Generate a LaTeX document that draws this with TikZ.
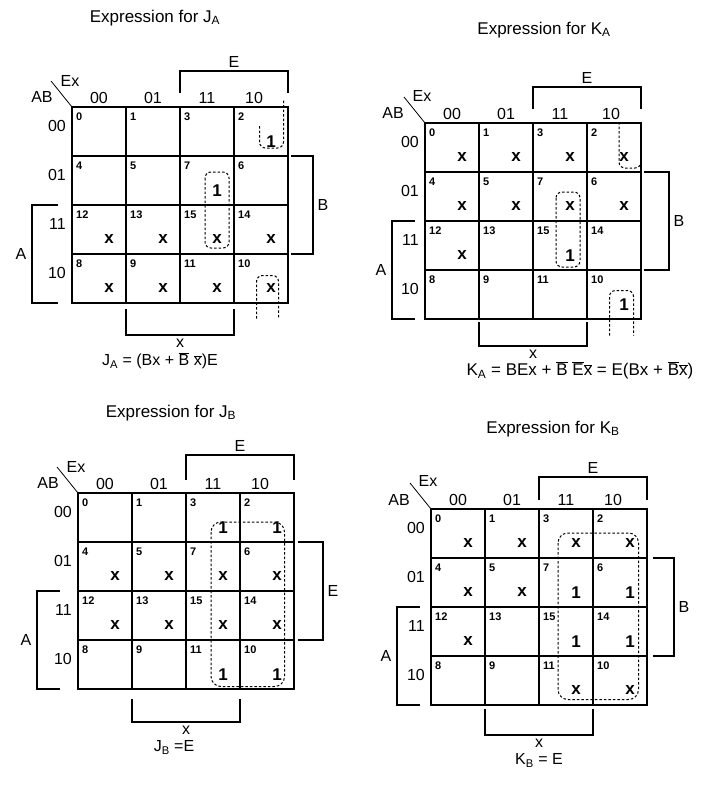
\documentclass[tikz,border=0pt]{standalone}
\usepackage{fontspec}
\setmainfont{Liberation Sans}
\usepackage{tikz}
\usetikzlibrary{positioning}

\begin{document}
\begin{tikzpicture}[
		x=1pt, y=-1pt,
		cell/.style={
			draw,
			line width=1.5pt,
			anchor=north west,
			minimum width=54pt,
			minimum height=49pt,
			inner sep=0pt,
			outer sep=0pt
		},
		num/.style={anchor=north west, inner sep=1pt, font=\bfseries\fontsize{11}{13}\selectfont},
		val/.style={inner sep=0pt, font=\bfseries\fontsize{17}{19}\selectfont},
		lbl/.style={inner sep=1pt, font=\fontsize{16}{18}\selectfont},
		title/.style={inner sep=1pt, font=\fontsize{17}{19}\selectfont},
		brk/.style={line width=1.2pt},
		grp/.style={line width=1pt, dash pattern=on 2.5pt off 2pt, rounded corners=6pt}
		]
		\useasboundingbox (0,0) rectangle (705,790);
		
		% Titles
		\node[title] (ja-title) at (155,18) {Expression for J\textsubscript{A}};
		\node[title] (ka-title) at (544,30) {Expression for K\textsubscript{A}};
		\node[title] (jb-title) at (171,413) {Expression for J\textsubscript{B}};
		\node[title] (kb-title) at (553,429) {Expression for K\textsubscript{B}};
		
		% Map for J_A
		\begin{scope}[shift={(72,107)}]
			\foreach \num/\val [count=\i from 0] in {0/{},1/{},3/{},2/1,4/{},5/{},7/1,6/{},12/x,13/x,15/x,14/x,8/x,9/x,11/x,10/x} {
				\node[cell] (ja\num) at ({mod(\i,4)*54},{int(\i/4)*49}) {};
				\node[num] (ja\num n) at ([shift={(3,5)}]ja\num.north west) {\num};
				\node[val] (ja\num v) at ([xshift=10pt,yshift=-10pt]ja\num.center) {\val};
			}
		\end{scope}
		\foreach \lab/\num/\dx in {00/0/0,01/1/0,11/3/0,10/2/-7}
			\node[lbl, above=2pt of ja\num, xshift=\dx pt] (ja-c\lab) {\lab};
		\foreach \lab/\num in {00/0,01/4,11/12,10/8}
			\node[lbl, left=5pt of ja\num, yshift=6pt] (ja-r\lab) {\lab};
		\draw[thick] (ja0.north west) -- ++(-21,-26);
		\node[lbl] (ja-ab) at ([shift={(-30,-10)}]ja0.north west) {AB};
		\node[lbl] (ja-ex) at ([shift={(-2,-26)}]ja0.north west) {Ex};
		\draw[brk] ([yshift=14pt]ja3.north west) -- ([yshift=36pt]ja3.north west)
			-- node[lbl, above=2pt] (ja-e) {E} ([yshift=36pt]ja2.north east) -- ([yshift=14pt]ja2.north east);
		\draw[brk] ([xshift=3pt]ja6.north east) -- ([xshift=25pt]ja6.north east)
			-- node[lbl, right=3pt] (ja-b) {B} ([xshift=25pt]ja14.south east) -- ([xshift=3pt]ja14.south east);
		\draw[brk] ([xshift=-14pt]ja12.north west) -- ([xshift=-40pt]ja12.north west)
			-- node[lbl, left=4pt] (ja-a) {A} ([xshift=-40pt]ja8.south west) -- ([xshift=-14pt]ja8.south west);
		\draw[brk] ([yshift=-6pt]ja9.south west) -- ([yshift=-32pt]ja9.south west)
			-- node[lbl, below=2pt] (ja-x) {x} ([yshift=-32pt]ja11.south east) -- ([yshift=-6pt]ja11.south east);
		\node[lbl, below=3pt of ja-x, xshift=-20pt] (ja-expr)
			{J\textsubscript{A} = (Bx + $\overline{\mbox{B}}$ $\overline{\mbox{x}}$)E};
		% groups
		\draw[grp] ([shift={(25,16)}]ja7.north west) rectangle ([shift={(49,43)}]ja15.north west);
		\draw[grp] ([shift={(25.5,19)}]ja2.north west) -- ([shift={(25.5,41)}]ja2.north west)
			-- ([shift={(49.5,41)}]ja2.north west) -- ([shift={(49.5,-7)}]ja2.north west);
		\draw[grp] ([shift={(22.5,64.5)}]ja10.north west) -- ([shift={(22.5,21.5)}]ja10.north west)
			-- ([shift={(44.5,21.5)}]ja10.north west) -- ([shift={(44.5,64.5)}]ja10.north west);
		
		% Map for K_A
		\begin{scope}[shift={(425,123)}]
			\foreach \num/\val [count=\i from 0] in {0/x,1/x,3/x,2/x,4/x,5/x,7/x,6/x,12/x,13/{},15/1,14/{},8/{},9/{},11/{},10/1} {
				\node[cell] (ka\num) at ({mod(\i,4)*54},{int(\i/4)*49}) {};
				\node[num] (ka\num n) at ([shift={(3,5)}]ka\num.north west) {\num};
				\node[val] (ka\num v) at ([xshift=10pt,yshift=-10pt]ka\num.center) {\val};
			}
		\end{scope}
		\foreach \lab/\num/\dx in {00/0/0,01/1/0,11/3/0,10/2/-3}
			\node[lbl, above=2pt of ka\num, xshift=\dx pt] (ka-c\lab) {\lab};
		\foreach \lab/\num in {00/0,01/4,11/12,10/8}
			\node[lbl, left=5pt of ka\num, yshift=6pt] (ka-r\lab) {\lab};
		\draw[thick] (ka0.north west) -- ++(-21,-26);
		\node[lbl] (ka-ab) at ([shift={(-32,-10)}]ka0.north west) {AB};
		\node[lbl] (ka-ex) at ([shift={(-3,-27)}]ka0.north west) {Ex};
		\draw[brk] ([yshift=14pt]ka3.north west) -- ([yshift=36pt]ka3.north west)
			-- node[lbl, above=2pt] (ka-e) {E} ([yshift=36pt]ka2.north east) -- ([yshift=14pt]ka2.north east);
		\draw[brk] ([xshift=3pt]ka6.north east) -- ([xshift=28pt]ka6.north east)
			-- node[lbl, right=3pt] (ka-b) {B} ([xshift=28pt]ka14.south east) -- ([xshift=3pt]ka14.south east);
		\draw[brk] ([xshift=-10pt]ka12.north west) -- ([xshift=-33pt]ka12.north west)
			-- node[lbl, left=4pt] (ka-a) {A} ([xshift=-33pt]ka8.south west) -- ([xshift=-10pt]ka8.south west);
		\draw[brk] ([yshift=-3pt]ka9.south west) -- ([yshift=-27pt]ka9.south west)
			-- node[lbl, below=2pt] (ka-x) {x} ([yshift=-27pt]ka11.south east) -- ([yshift=-3pt]ka11.south east);
		\node[lbl, below=1pt of ka-x, xshift=47pt, font=\fontsize{17}{19}\selectfont] (ka-expr)
			{K\textsubscript{A} = BEx + $\overline{\mbox{B}}$ $\overline{\mbox{E}}\overline{\mbox{x}}$ = E(Bx + $\overline{\mbox{B}}\overline{\mbox{x}}$)};
		% groups
		\draw[grp] ([shift={(23,20)}]ka7.north west) rectangle ([shift={(47,46)}]ka15.north west);
		\draw[grp] ([shift={(32,-1)}]ka2.north west) -- ([shift={(32,45)}]ka2.north west)
			-- ([shift={(54,45)}]ka2.north west) -- ([shift={(54,-1)}]ka2.north west);
		\draw[grp] ([shift={(22.5,65.5)}]ka10.north west) -- ([shift={(22.5,20.5)}]ka10.north west)
			-- ([shift={(46.5,20.5)}]ka10.north west) -- ([shift={(46.5,65.5)}]ka10.north west);
		
		% Map for J_B
		\begin{scope}[shift={(78,493)}]
			\foreach \num/\val [count=\i from 0] in {0/{},1/{},3/1,2/1,4/x,5/x,7/x,6/x,12/x,13/x,15/x,14/x,8/{},9/{},11/1,10/1} {
				\node[cell] (jb\num) at ({mod(\i,4)*54},{int(\i/4)*49}) {};
				\node[num] (jb\num n) at ([shift={(3,5)}]jb\num.north west) {\num};
				\node[val] (jb\num v) at ([xshift=10pt,yshift=-10pt]jb\num.center) {\val};
			}
		\end{scope}
		\foreach \lab/\num/\dx in {00/0/0,01/1/0,11/3/0,10/2/-7}
			\node[lbl, above=2pt of jb\num, xshift=\dx pt] (jb-c\lab) {\lab};
		\foreach \lab/\num in {00/0,01/4,11/12,10/8}
			\node[lbl, left=5pt of jb\num, yshift=6pt] (jb-r\lab) {\lab};
		\draw[thick] (jb0.north west) -- ++(-21,-26);
		\node[lbl] (jb-ab) at ([shift={(-30,-10)}]jb0.north west) {AB};
		\node[lbl] (jb-ex) at ([shift={(-2,-26)}]jb0.north west) {Ex};
		\draw[brk] ([yshift=13pt]jb3.north west) -- ([yshift=38pt]jb3.north west)
			-- node[lbl, above=2pt] (jb-e) {E} ([yshift=38pt]jb2.north east) -- ([yshift=13pt]jb2.north east);
		\draw[brk] ([xshift=4pt]jb6.north east) -- ([xshift=29pt]jb6.north east)
			-- node[lbl, right=3pt] (jb-b) {E} ([xshift=29pt]jb14.south east) -- ([xshift=4pt]jb14.south east);
		\draw[brk] ([xshift=-18pt]jb12.north west) -- ([xshift=-41pt]jb12.north west)
			-- node[lbl, left=4pt] (jb-a) {A} ([xshift=-41pt]jb8.south west) -- ([xshift=-18pt]jb8.south west);
		\draw[brk] ([yshift=-10pt]jb9.south west) -- ([yshift=-33pt]jb9.south west)
			-- node[lbl, below=2pt] (jb-x) {x} ([yshift=-33pt]jb11.south east) -- ([yshift=-10pt]jb11.south east);
		\node[lbl, below=4pt of jb-x, xshift=-12pt] (jb-expr) {J\textsubscript{B} =E};
		% group
		\draw[grp, rounded corners=10pt] ([shift={(25,29)}]jb3.north west) rectangle ([shift={(44.5,46.5)}]jb10.north west);
		
		% Map for K_B
		\begin{scope}[shift={(431,509)}]
			\foreach \num/\val [count=\i from 0] in {0/x,1/x,3/x,2/x,4/x,5/x,7/1,6/1,12/x,13/{},15/1,14/1,8/{},9/{},11/x,10/x} {
				\node[cell] (kb\num) at ({mod(\i,4)*54},{int(\i/4)*49}) {};
				\node[num] (kb\num n) at ([shift={(3,5)}]kb\num.north west) {\num};
				\node[val] (kb\num v) at ([xshift=10pt,yshift=-10pt]kb\num.center) {\val};
			}
		\end{scope}
		\foreach \lab/\num/\dx in {00/0/0,01/1/0,11/3/0,10/2/-7}
			\node[lbl, above=2pt of kb\num, xshift=\dx pt] (kb-c\lab) {\lab};
		\foreach \lab/\num in {00/0,01/4,11/12,10/8}
			\node[lbl, left=5pt of kb\num, yshift=6pt] (kb-r\lab) {\lab};
		\draw[thick] (kb0.north west) -- ++(-21,-26);
		\node[lbl] (kb-ab) at ([shift={(-32,-9)}]kb0.north west) {AB};
		\node[lbl] (kb-ex) at ([shift={(-3,-28)}]kb0.north west) {Ex};
		\draw[brk] ([yshift=9pt]kb3.north west) -- ([yshift=32pt]kb3.north west)
			-- node[lbl, above=2pt] (kb-e) {E} ([yshift=32pt]kb2.north east) -- ([yshift=9pt]kb2.north east);
		\draw[brk] ([xshift=6pt]kb6.north east) -- ([xshift=27pt]kb6.north east)
			-- node[lbl, right=3pt] (kb-b) {B} ([xshift=27pt]kb14.south east) -- ([xshift=6pt]kb14.south east);
		\draw[brk] ([xshift=-11pt]kb12.north west) -- ([xshift=-34pt]kb12.north west)
			-- node[lbl, left=4pt] (kb-a) {A} ([xshift=-34pt]kb8.south west) -- ([xshift=-11pt]kb8.south west);
		\draw[brk] ([yshift=-4pt]kb9.south west) -- ([yshift=-30pt]kb9.south west)
			-- node[lbl, below=2pt] (kb-x) {x} ([yshift=-30pt]kb11.south east) -- ([yshift=-4pt]kb11.south east);
		\node[lbl, below=4pt of kb-x] (kb-expr) {K\textsubscript{B} = E};
		% group
		\draw[grp, rounded corners=10pt] ([shift={(19,24)}]kb3.north west) rectangle ([shift={(45.5,43.5)}]kb10.north west);
		
	\end{tikzpicture}
\end{document}
